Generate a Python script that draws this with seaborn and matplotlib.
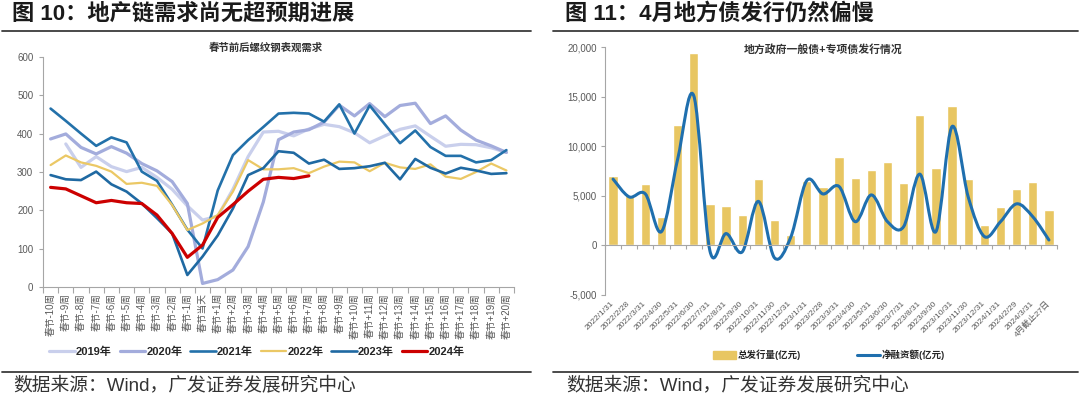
import numpy as np
import pandas as pd
import matplotlib
matplotlib.use("Agg")
import matplotlib.pyplot as plt
import matplotlib.patches as mpatches
import matplotlib.lines as mlines
import matplotlib.ticker as mticker
from matplotlib.path import Path
import seaborn as sns

nan = np.nan

# ---- left chart: rebar apparent demand around spring festival ----
weeks = [f'春节{i}周' for i in range(-10, 0)] + ['春节当天'] + [f'春节+{i}周' for i in range(1, 21)]

d2019 = [nan, 373, 312, 340, 314, 301, 312, 286, 255, 212, 175, 185, 255, 340, 404, 406, 394,
         412, 424, 418, 402, 376, 394, 411, 420, 393, 367, 372, 371, 363, 351]
d2020 = [386, 399, 364, 347, 366, 349, 322, 303, 275, 218, 10, 20, 45, 106, 222, 384, 404,
         410, 430, 474, 446, 478, 444, 473, 479, 426, 446, 409, 383, 368, 351]
d2021 = [465, 433, 400, 368, 390, 377, 301, 277, 215, 150, 101, 252, 344, 383, 417, 452, 454,
         452, 431, 476, 400, 473, 424, 375, 408, 365, 342, 342, 325, 331, 357]
d2022 = [318, 343, 325, 316, 301, 269, 272, 264, 214, 149, 166, 188, 249, 331, 307, 307, 310,
         297, 314, 327, 325, 302, 324, 312, 308, 320, 288, 282, 300, 322, 304]
d2023 = [292, 281, 279, 301, 268, 249, 218, 180, 140, 32, 80, 135, 205, 292, 310, 354, 350,
         322, 332, 308, 310, 315, 324, 281, 334, 311, 296, 311, 304, 295, 297]
d2024 = [260, 256, 238, 220, 226, 220, 218, 188, 140, 78, 110, 182, 215, 250, 281, 286, 283,
         290] + [nan] * 13

years = ['2019年', '2020年', '2021年', '2022年', '2023年', '2024年']
year_colors = ['#c9cfec', '#a3acdc', '#2371aa', '#ebc865', '#1f69a2', '#cc0000']
year_widths = [2.3, 2.3, 1.9, 1.6, 1.9, 2.3]

# ---- right chart: local government bond issuance ----
months = ['2022/1/31', '2022/2/28', '2022/3/31', '2022/4/30', '2022/5/31', '2022/6/30',
          '2022/7/31', '2022/8/31', '2022/9/30', '2022/10/31', '2022/11/30', '2022/12/31',
          '2023/1/31', '2023/2/28', '2023/3/31', '2023/4/30', '2023/5/31', '2023/6/30',
          '2023/7/31', '2023/8/31', '2023/9/30', '2023/10/31', '2023/11/30', '2023/12/31',
          '2024/1/31', '2024/2/29', '2024/3/31', '4月截止27日']
total_issue = [7050, 5100, 6250, 2920, 12160, 19390, 4170, 4030, 3090, 6750, 2590, 1075,
               6520, 5850, 8970, 6820, 7630, 8400, 6280, 13140, 7800, 14050, 6750, 2050,
               3930, 5680, 6380, 3530]
net_finance = [6700, 4900, 5200, 1400, 8700, 15100, -550, 1200, -650, 4450, -1250, 800,
               6550, 5200, 5950, 2400, 5100, 2400, 1900, 7200, 1400, 12000, 4900, 900,
               2400, 4200, 2900, 550]

sns.set_theme(style='white')
plt.rcParams['font.family'] = ['Liberation Sans', 'Noto Sans CJK SC']
plt.rcParams['axes.unicode_minus'] = False

W, H = 1080, 398
fig = plt.figure(figsize=(W / 100, H / 100), dpi=100)

def fx(px):
    return px / W

def fy(py):
    return 1 - py / H

grey = '#a6a6a6'
label_c = '#595959'

# ================= left chart =================
ax1 = fig.add_axes([fx(43), fy(287.3), fx(471), (287.3 - 56.7) / H])
demand = pd.DataFrame({'week': np.arange(len(weeks))})
for yr, vals in zip(years, [d2019, d2020, d2021, d2022, d2023, d2024]):
    demand[yr] = vals
for yr, c, lw in zip(years, year_colors, year_widths):
    sns.lineplot(data=demand, x='week', y=yr, color=c, lw=lw, ax=ax1)

ax1.set_xlim(-0.5, len(weeks) - 0.5)
ax1.set_ylim(0, 600)
ax1.set_yticks(range(0, 601, 100))
ax1.set_xticks(range(len(weeks)))
ax1.set_xticklabels(weeks, rotation=90)
ax1.set_xticks(np.arange(-0.5, len(weeks), 1), minor=True)
ax1.set_xlabel('')
ax1.set_ylabel('')
ax1.tick_params(axis='x', which='major', length=0, pad=4, labelsize=7, labelcolor=label_c)
ax1.tick_params(axis='x', which='minor', length=4, direction='out', color=grey, width=0.8, bottom=True)
ax1.tick_params(axis='y', length=3, direction='out', color=grey, width=0.8, left=True,
                labelsize=7, labelcolor=label_c, pad=4)
for s in ['top', 'right']:
    ax1.spines[s].set_visible(False)
for s in ['left', 'bottom']:
    ax1.spines[s].set_color(grey)
    ax1.spines[s].set_linewidth(0.8)

fig.text(fx(266), fy(48), '春节前后螺纹钢表观需求', ha='center', va='center', fontsize=7.5,
         color='#333333', weight='bold')

handles = [mlines.Line2D([], [], color=c, lw=lw) for c, lw in zip(year_colors, year_widths)]
fig.legend(handles, years, loc='center', bbox_to_anchor=(fx(257), fy(352)), ncol=6,
           frameon=False, prop={'size': 8, 'weight': 'bold'}, handlelength=2.3,
           handletextpad=0.1, columnspacing=0.7)

# ================= right chart =================
ax2 = fig.add_axes([fx(605), fy(295), fx(452), (295 - 47.3) / H])
bonds = pd.DataFrame({'month': months, 'total': total_issue, 'net': net_finance})
sns.barplot(data=bonds, x='month', y='total', color='#e8c662', saturation=1, width=0.58, ax=ax2)

# excel-style smoothed line: cubic bezier through the monthly values
pts = np.column_stack([np.arange(len(net_finance)), bonds['net'].to_numpy(float)])
verts = [tuple(pts[0])]
codes = [Path.MOVETO]
for i in range(len(pts) - 1):
    p0 = pts[max(i - 1, 0)]
    p1 = pts[i]
    p2 = pts[i + 1]
    p3 = pts[min(i + 2, len(pts) - 1)]
    verts += [tuple(p1 + (p2 - p0) / 6), tuple(p2 - (p3 - p1) / 6), tuple(p2)]
    codes += [Path.CURVE4] * 3
ax2.add_patch(mpatches.PathPatch(Path(verts, codes), fill=False, edgecolor='#1f6fae', lw=2.2,
                                 capstyle='round', joinstyle='round'))

ax2.set_xlim(-0.5, len(months) - 0.5)
ax2.set_ylim(-5000, 20000)
ax2.set_yticks(range(-5000, 20001, 5000))
ax2.yaxis.set_major_formatter(mticker.StrMethodFormatter('{x:,.0f}'))
ax2.set_xlabel('')
ax2.set_ylabel('')
ax2.spines['bottom'].set_position(('data', 0))
ax2.set_xticks(range(len(months)))
ax2.set_xticklabels(months)
ax2.set_xticks(np.arange(-0.5, len(months), 1), minor=True)
ax2.tick_params(axis='x', which='major', length=0, pad=41, labelsize=6, labelcolor=label_c)
ax2.tick_params(axis='x', which='minor', length=3, direction='out', color=grey, width=0.8, bottom=True)
ax2.tick_params(axis='y', length=3, direction='out', color=grey, width=0.8, left=True,
                labelsize=7, labelcolor=label_c, pad=3)
plt.setp(ax2.get_xticklabels(), rotation=45, ha='right', va='center', rotation_mode='anchor')
for s in ['top', 'right']:
    ax2.spines[s].set_visible(False)
for s in ['left', 'bottom']:
    ax2.spines[s].set_color(grey)
    ax2.spines[s].set_linewidth(0.8)

fig.text(fx(823), fy(49), '地方政府一般债+专项债发行情况', ha='center', va='center', fontsize=7.8,
         color='#333333', weight='bold')

handles2 = [mpatches.Patch(color='#e8c662'), mlines.Line2D([], [], color='#1f6fae', lw=2.2)]
fig.legend(handles2, ['总发行量(亿元)', '净融资额(亿元)'], loc='center',
           bbox_to_anchor=(fx(829), fy(355)), ncol=2, frameon=False,
           prop={'size': 6.8, 'weight': 'bold'}, handlelength=2.4, handleheight=0.9,
           handletextpad=0.15, columnspacing=6)

# ================= titles, rules, sources =================
fig.text(fx(12), fy(14), '图 10：地产链需求尚无超预期进展', ha='left', va='center',
         fontsize=16, weight='bold', color='#1a1a1a')
fig.text(fx(565), fy(14), '图 11：4月地方债发行仍然偏慢', ha='left', va='center',
         fontsize=16, weight='bold', color='#1a1a1a')
for x0, x1 in [(2, 531), (553, 1078)]:
    fig.add_artist(mlines.Line2D([fx(x0), fx(x1)], [fy(31), fy(31)], color='#3c3c3c', lw=1.3))
    fig.add_artist(mlines.Line2D([fx(x0), fx(x1)], [fy(372), fy(372)], color='#3c3c3c', lw=1.3))
fig.text(fx(13), fy(385), '数据来源：Wind，广发证券发展研究中心', ha='left', va='center',
         fontsize=13.5, color='#333333')
fig.text(fx(566), fy(385), '数据来源：Wind，广发证券发展研究中心', ha='left', va='center',
         fontsize=13.5, color='#333333')

fig.savefig('out.png', dpi=100)
